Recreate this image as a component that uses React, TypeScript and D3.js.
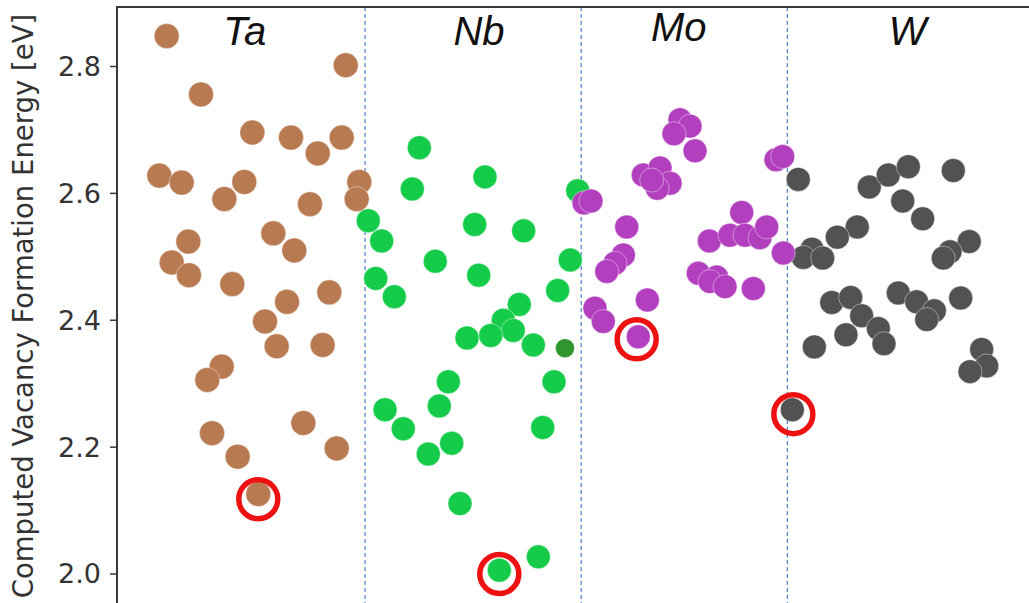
import React from 'react';
import * as d3 from 'd3';

// element labels and where they sit along the (unlabelled) x axis
const elements = ['Ta', 'Nb', 'Mo', 'W'];
const labelPos = [14.0, 39.7, 61.6, 86.7];
const dividers = [27.2, 50.9, 73.5];
const yTicks = [2.0, 2.2, 2.4, 2.6, 2.8];

// [position, energy eV]
const ta: [number, number][] = [
    [5.45, 2.848], [25.08, 2.802], [9.21, 2.756], [14.84, 2.696], [19.08, 2.688],
    [24.64, 2.688], [22.01, 2.663], [4.64, 2.628], [7.09, 2.617], [13.96, 2.618],
    [11.77, 2.591], [26.57, 2.618], [26.28, 2.591], [21.16, 2.583], [17.14, 2.537],
    [19.44, 2.510], [7.82, 2.524], [6.0, 2.491], [7.89, 2.471], [12.64, 2.457],
    [18.64, 2.429], [23.28, 2.444], [16.23, 2.398], [17.51, 2.359], [22.55, 2.361],
    [11.48, 2.327], [9.9, 2.306], [10.42, 2.222], [13.23, 2.185], [20.43, 2.238],
    [24.09, 2.198], [15.49, 2.126]
];
const nb: [number, number][] = [
    [33.15, 2.672], [40.35, 2.626], [32.38, 2.607], [50.52, 2.604], [27.55, 2.557],
    [29.02, 2.525], [39.22, 2.551], [44.59, 2.541], [34.9, 2.493], [39.66, 2.471],
    [49.7, 2.495], [28.37, 2.466], [30.41, 2.437], [48.32, 2.447], [44.11, 2.425],
    [42.36, 2.400], [43.45, 2.384], [38.38, 2.372], [40.98, 2.376], [45.65, 2.361],
    [36.33, 2.303], [35.34, 2.265], [29.39, 2.259], [31.39, 2.229], [36.7, 2.206],
    [34.13, 2.189], [47.92, 2.303], [46.68, 2.231], [37.61, 2.111], [46.2, 2.027],
    [41.92, 2.006]
];
const nbDark: [number, number][] = [[49.12, 2.356]];
const mo: [number, number][] = [
    [61.73, 2.716], [62.83, 2.706], [61.07, 2.694], [63.38, 2.667], [57.71, 2.629],
    [59.54, 2.640], [60.64, 2.616], [59.24, 2.608], [58.63, 2.621], [72.26, 2.653],
    [72.99, 2.658], [51.21, 2.585], [51.97, 2.588], [68.5, 2.570], [55.89, 2.547],
    [64.95, 2.525], [67.21, 2.534], [68.86, 2.534], [70.5, 2.530], [71.24, 2.547],
    [73.06, 2.506], [55.52, 2.503], [54.61, 2.490], [53.7, 2.477], [63.74, 2.474],
    [65.76, 2.468], [65.02, 2.461], [66.67, 2.453], [69.77, 2.450], [58.15, 2.432],
    [52.41, 2.419], [53.32, 2.398], [57.16, 2.374]
];
const w: [number, number][] = [
    [74.7, 2.622], [82.49, 2.610], [84.57, 2.629], [86.77, 2.642], [91.7, 2.636],
    [86.15, 2.588], [88.34, 2.560], [81.17, 2.547], [78.98, 2.531], [93.45, 2.524],
    [91.34, 2.508], [90.6, 2.498], [76.21, 2.512], [75.25, 2.499], [77.38, 2.498],
    [78.37, 2.428], [80.45, 2.436], [81.65, 2.407], [83.48, 2.387], [84.1, 2.363],
    [79.93, 2.377], [76.46, 2.358], [85.67, 2.443], [87.68, 2.429], [89.62, 2.415],
    [88.78, 2.401], [92.51, 2.435], [94.81, 2.354], [95.36, 2.328], [93.53, 2.319],
    [74.05, 2.259]
];
// lowest-energy picks, circled in red
const picks: [number, number][] = [[15.49, 2.118], [41.92, 2.0], [56.98, 2.370], [74.16, 2.252]];

const series = [
    {name: 'Nb', data: nb, color: '#14cc49', r: 12},
    {name: 'Nb2', data: nbDark, color: '#2f962f', r: 9.5},
    {name: 'Ta', data: ta, color: '#b87a51', r: 12.5},
    {name: 'W', data: w, color: '#525252', r: 12},
    {name: 'Mo', data: mo, color: '#b23fbe', r: 12},
];

const width = 1029;
const height = 603;
const left = 117;
const top = 7;

const App = () => {
    const x = d3.scaleLinear([0, 100], [left, width]);
    const y = d3.scaleLinear([2.0, 2.8], [574, 66.5]);
    const font = '"DejaVu Sans", sans-serif';

    return (
        <svg width={width} height={height} style={{position: 'absolute', left: 0, top: 0, background: '#fff'}}>
            <rect width={width} height={height} fill="#fff"/>
            {dividers.map((d, i) => (
                <line key={i} x1={x(d)} x2={x(d)} y1={top} y2={height}
                      stroke="#4a7fc8" strokeWidth={1.2} strokeDasharray="4,3"/>
            ))}
            {series.map(s => (
                <g key={s.name} fill={s.color} stroke="#fff" strokeWidth={0.7} strokeOpacity={0.6}>
                    {s.data.map((d, i) => (<circle key={i} cx={x(d[0])} cy={y(d[1])} r={s.r}/>))}
                </g>
            ))}
            <g fill="none" stroke="#ee1111" strokeWidth={5.5}>
                {picks.map((d, i) => (<circle key={i} cx={x(d[0])} cy={y(d[1])} r={19.5}/>))}
            </g>
            {elements.map((e, i) => (
                <text key={e} x={x(labelPos[i])} y={e === 'Mo' ? 41 : 45} textAnchor="middle"
                      fontFamily='"Liberation Sans", sans-serif' fontStyle="italic" fontSize={40}
                      fill="#111">{e}</text>
            ))}
            <line x1={left} x2={left} y1={top - 1} y2={height} stroke="#3a3a3a" strokeWidth={2}/>
            <line x1={left} x2={width} y1={top} y2={top} stroke="#3a3a3a" strokeWidth={2}/>
            <g fontFamily={font} fontSize={27} fill="#333" textAnchor="end">
                {yTicks.map(t => (
                    <g key={t} transform={`translate(0,${y(t)})`}>
                        <line x1={left - 7} x2={left} stroke="#3a3a3a" strokeWidth={1.5}/>
                        <text x={101} dy="0.35em">{d3.format('.1f')(t)}</text>
                    </g>
                ))}
            </g>
            <text transform={`translate(33,306) rotate(-90)`} textAnchor="middle"
                  fontFamily={font} fontSize={27.5} fill="#333">
                Computed Vacancy Formation Energy [eV]
            </text>
        </svg>
    );
};

export default App;
